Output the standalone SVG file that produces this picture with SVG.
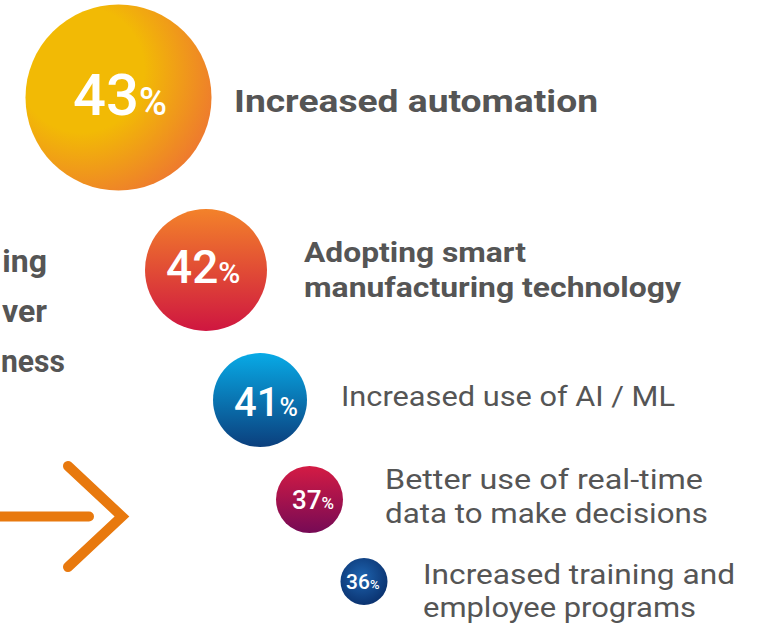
<svg xmlns="http://www.w3.org/2000/svg" width="761" height="628" viewBox="0 0 761 628">
<defs>
<radialGradient id="g43" cx="0.3" cy="0.35" r="0.75">
<stop offset="0.45" stop-color="#F2BA05"/>
<stop offset="1" stop-color="#EE7A2E"/>
</radialGradient>
<linearGradient id="g42" x1="0" y1="0" x2="0" y2="1">
<stop offset="0" stop-color="#F3822A"/>
<stop offset="1" stop-color="#CF1640"/>
</linearGradient>
<linearGradient id="g41" x1="0" y1="0" x2="0" y2="1">
<stop offset="0" stop-color="#08AAE6"/>
<stop offset="1" stop-color="#0B3F7D"/>
</linearGradient>
<linearGradient id="g37" x1="0" y1="0" x2="0" y2="1">
<stop offset="0" stop-color="#D41B44"/>
<stop offset="1" stop-color="#760A55"/>
</linearGradient>
<radialGradient id="g36" cx="0.45" cy="0.4" r="0.6">
<stop offset="0" stop-color="#1E64B0"/>
<stop offset="1" stop-color="#0B3370"/>
</radialGradient>
</defs>
<style>
.pct{font-family:Roboto,"Liberation Sans",sans-serif;font-weight:500;fill:#fff}
.b{font-family:Roboto,"Liberation Sans",sans-serif;font-weight:700;fill:#555}
.r{font-family:Roboto,"Liberation Sans",sans-serif;font-weight:400;fill:#555}
</style>
<rect width="761" height="628" fill="#fff"/>
<g id="left-text">
<text class="b" font-size="32" x="47" y="272" text-anchor="end">ing</text>
<text class="b" font-size="32" x="47" y="322" text-anchor="end">ver</text>
<text class="b" font-size="32" x="1" y="372" textLength="64" lengthAdjust="spacingAndGlyphs">ness</text>
</g>
<g id="connectors">
<path d="M0 516.5 H89 M68 466 L122 516.5 L68 567" fill="none" stroke="#E8790E" stroke-width="10" stroke-linecap="round" stroke-linejoin="miter"/>
</g>
<g id="n43">
<circle cx="118.5" cy="97.5" r="93" fill="url(#g43)"/>
<text class="pct" x="73" y="115"><tspan font-size="58">43</tspan><tspan font-size="38">%</tspan></text>
<text class="b" font-size="31" x="234" y="112" textLength="364" lengthAdjust="spacingAndGlyphs">Increased automation</text>
</g>
<g id="n42">
<circle cx="206" cy="270" r="61" fill="url(#g42)"/>
<text class="pct" x="166" y="283"><tspan font-size="46">42</tspan><tspan font-size="30">%</tspan></text>
<text class="b" font-size="27" x="304" y="262" textLength="222" lengthAdjust="spacingAndGlyphs">Adopting smart</text>
<text class="b" font-size="27" x="304" y="297" textLength="377" lengthAdjust="spacingAndGlyphs">manufacturing technology</text>
</g>
<g id="n41">
<circle cx="260" cy="400" r="47" fill="url(#g41)"/>
<text class="pct" x="234" y="416"><tspan font-size="40">41</tspan><tspan font-size="25">%</tspan></text>
<text class="r" font-size="28" x="341" y="406" textLength="334" lengthAdjust="spacingAndGlyphs">Increased use of AI / ML</text>
</g>
<g id="n37">
<circle cx="309.5" cy="499.5" r="33.5" fill="url(#g37)"/>
<text class="pct" x="292" y="509"><tspan font-size="26">37</tspan><tspan font-size="17">%</tspan></text>
<text class="r" font-size="28" x="385" y="489" textLength="318" lengthAdjust="spacingAndGlyphs">Better use of real-time</text>
<text class="r" font-size="28" x="385" y="523" textLength="323" lengthAdjust="spacingAndGlyphs">data to make decisions</text>
</g>
<g id="n36">
<circle cx="364" cy="581.5" r="23.5" fill="url(#g36)"/>
<text class="pct" x="346" y="589"><tspan font-size="21">36</tspan><tspan font-size="13">%</tspan></text>
<text class="r" font-size="28" x="423" y="584" textLength="312" lengthAdjust="spacingAndGlyphs">Increased training and</text>
<text class="r" font-size="28" x="423" y="617" textLength="273" lengthAdjust="spacingAndGlyphs">employee programs</text>
</g>
</svg>
